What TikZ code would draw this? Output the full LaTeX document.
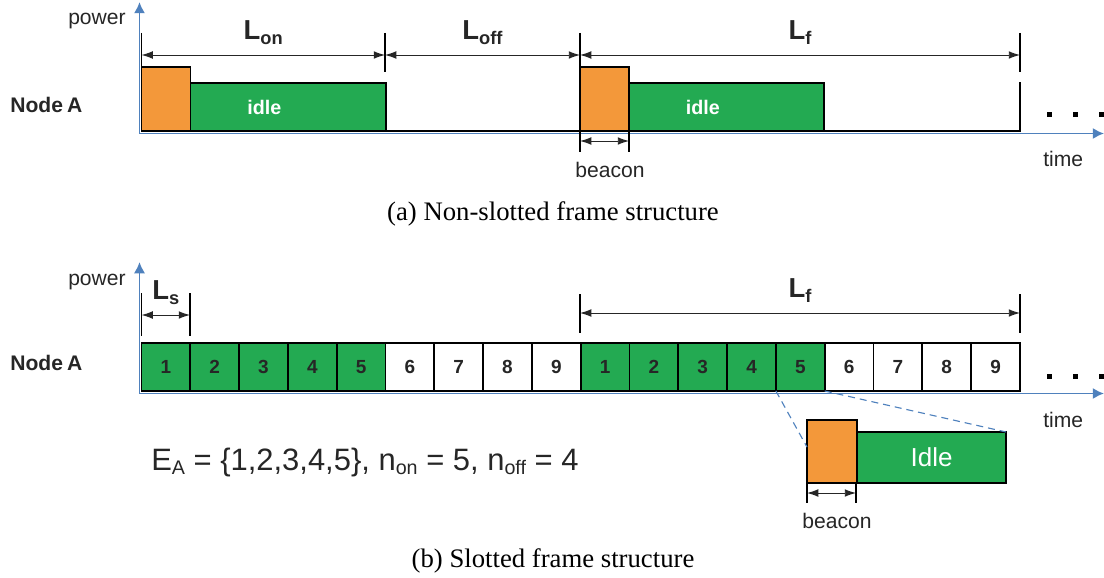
\documentclass[tikz,border=0pt]{standalone}
\usepackage{fontspec}
\setmainfont{Liberation Sans}
\newfontfamily\captionfont{Liberation Serif}
\usetikzlibrary{arrows.meta,calc,positioning}

\definecolor{beaconorange}{RGB}{243,152,58}
\definecolor{busygreen}{RGB}{35,170,82}
\definecolor{axisblue}{RGB}{79,129,189}
\definecolor{ink}{RGB}{38,38,38}

%% L with a bold subscript, and a plain subscript for the formula
\newcommand{\Lsub}[1]{\fontsize{19.5}{22}\selectfont\bfseries L\raisebox{-3pt}{\fontsize{13}{15}\selectfont #1}}
\newcommand{\fsub}[1]{\raisebox{-3.5pt}{\fontsize{14}{16}\selectfont #1}}

\tikzset{
  axis/.style={draw=axisblue, line width=1.4pt, -{Latex[length=8pt,width=8pt]}},
  marker/.style={draw=black, line width=1.4pt},
  dimline/.style={draw=black!85, line width=0.7pt,
    {Latex[length=8pt,width=5.5pt]}-{Latex[length=8pt,width=5.5pt]}},
  dimtext/.style={anchor=base, yshift=0.375cm, inner sep=0pt, text=ink},
  boxbase/.style={rectangle, draw=black, line width=1.4pt,
    inner sep=0pt, outer sep=0pt, anchor=south west},
  beaconbox/.style={boxbase, fill=beaconorange,
    minimum width=1.225cm, minimum height=1.6cm},
  idlebox/.style={boxbase, fill=busygreen,
    minimum width=4.875cm, minimum height=1.2cm},
  slotbox/.style={boxbase, minimum width=1.2208cm, minimum height=1.2cm,
    text=ink, font=\bfseries\fontsize{13.5}{15}\selectfont},
  idletext/.style={text=white, font=\bfseries\fontsize{14}{16}\selectfont, inner sep=0pt},
  axistext/.style={text=ink, font=\fontsize{15}{18}\selectfont, inner sep=0pt},
  nodetext/.style={text=ink, font=\bfseries\fontsize{15}{18}\selectfont,
    inner sep=0pt, anchor=base west},
  captiontext/.style={font=\captionfont\fontsize{19}{22}\selectfont,
    inner sep=0pt, anchor=base},
  zoomline/.style={draw=axisblue, line width=0.8pt, dash pattern=on 5pt off 3.5pt},
}

\begin{document}
\begin{tikzpicture}[x=0.025cm, y=-0.025cm]
\useasboundingbox (0,0) rectangle (1104,578);

%% ---------------- (a) non-slotted ----------------
  \coordinate (oa) at (139.5,133.5);
  \coordinate (ya) at (139.5,2);
  \coordinate (xa) at (1104,133.5);
  \draw[axis] (oa) -- (ya);
  \draw[axis] (oa) -- (xa);

  \node[axistext, anchor=base east] (pwa) at (126,25) {power};
  \node[axistext, anchor=base west] (tma) at (1043,166) {time};
  \node[nodetext] (nda) at (10,112) {Node\kern0.2em A};

  %% two frames: beacon then idle, then off
  \node[beaconbox] (b1) at (141.5,131) {};
  \node[idlebox] (i1) at (b1.south east) {};
  \node[beaconbox] (b2) at (580,131) {};
  \node[idlebox] (i2) at (b2.south east) {};
  \node[idletext] (ia1) at ([xshift=-0.59cm]i1.center) {idle};
  \node[idletext] (ia2) at ([xshift=-0.59cm]i2.center) {idle};

  \coordinate (fa) at (1020,131);
  \draw[marker] (i1.south east) -- (b2.south west);
  \draw[marker] (i2.south east) -- (fa) -- (1020,82);

  \foreach \x/\ya/\yb in {141.5/33/72, 385/33/72, 580/33/68, 1020/33/72,
                          580/131/152, 629/131/152}{
    \draw[marker] (\x,\ya) -- (\x,\yb);
  }

  %% lengths
  \coordinate (da0) at (141.5,55);
  \coordinate (da1) at (385,55);
  \coordinate (da2) at (580,55);
  \coordinate (da3) at (1020,55);
  \draw[dimline] (da0) -- node[dimtext] (Lon) {\Lsub{on}} (da1);
  \draw[dimline] (da1) -- node[dimtext] (Loff) {\Lsub{off}} (da2);
  \draw[dimline] (da2) -- node[dimtext] (Lfa) {\Lsub{f}} (da3);

  \coordinate (ba0) at (580,141);
  \coordinate (ba1) at (629,141);
  \draw[dimline] (ba0) -- (ba1);
  \node[axistext, anchor=base] (bca) at (610,177) {beacon};

  \foreach \x in {1049,1075,1101}{
    \fill[black] (\x,114) ++(-2.5,-2.5) rectangle ++(5,5);
  }

  \node[captiontext] (capa) at (553,220) {(a) Non-slotted frame structure};

%% ---------------- (b) slotted ----------------
  \coordinate (ob) at (139.5,393.5);
  \coordinate (yb) at (139.5,262);
  \coordinate (xb) at (1104,393.5);
  \draw[axis] (ob) -- (yb);
  \draw[axis] (ob) -- (xb);

  \node[axistext, anchor=base east] (pwb) at (126,285) {power};
  \node[axistext, anchor=base west] (tmb) at (1043,427) {time};
  \node[nodetext] (ndb) at (10,370) {Node\kern0.2em A};

  %% slots 1..9, twice; the first five are on
  \foreach \i in {1,...,18}{
    \pgfmathtruncatemacro{\n}{mod(\i-1,9)+1}
    \ifnum\n<6 \def\slotfill{busygreen}\else\def\slotfill{white}\fi
    \node[slotbox, fill=\slotfill] (s\i) at ({141.5+(\i-1)*48.8},391) {\n};
  }

  \foreach \x/\ya/\yb in {141.5/293/336, 190/293/336, 580/294/333, 1020/294/333,
                          807/483/503, 856/483/503}{
    \draw[marker] (\x,\ya) -- (\x,\yb);
  }

  \coordinate (db0) at (141.5,315);
  \coordinate (db1) at (190,315);
  \coordinate (db2) at (580,313);
  \coordinate (db3) at (1020,313);
  \draw[dimline] (db0) -- node[dimtext] (Ls) {\Lsub{s}} (db1);
  \draw[dimline] (db2) -- node[dimtext] (Lfb) {\Lsub{f}} (db3);

  %% blow-up of slot 5
  \node[beaconbox, minimum width=1.25cm, minimum height=1.575cm] (zb) at (807,483) {};
  \node[idlebox, minimum width=3.725cm, minimum height=1.275cm,
        text=white, font=\fontsize{18.5}{22}\selectfont] (zi) at (zb.south east) {Idle};
  \coordinate (zcut) at ($(zb.north west)!0.43!(zb.south west)$);
  \draw[zoomline] (s14.south west) -- (zcut);
  \draw[zoomline] (s14.south east) -- (zi.north east);

  \coordinate (bb0) at (807,493);
  \coordinate (bb1) at (856,493);
  \draw[dimline] (bb0) -- (bb1);
  \node[axistext, anchor=base] (bcb) at (837,528) {beacon};

  \foreach \x in {1049,1075,1101}{
    \fill[black] (\x,376) ++(-2.5,-2.5) rectangle ++(5,5);
  }

  \node[anchor=base west, inner sep=0pt, text=ink, font=\fontsize{22}{26}\selectfont]
    (eset) at (151,470) {E\fsub{A} = \{1,2,3,4,5\}, n\fsub{on} = 5, n\fsub{off} = 4};

  \node[captiontext] (capb) at (553,567) {(b) Slotted frame structure};

\end{tikzpicture}
\end{document}
